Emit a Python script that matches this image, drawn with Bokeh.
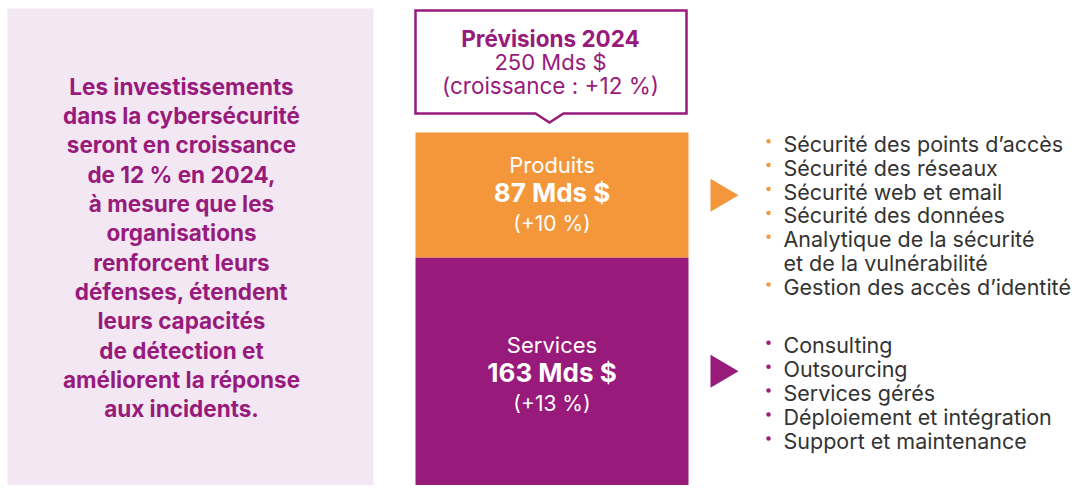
from bokeh.plotting import figure
from bokeh.models import Range1d
from bokeh.embed import file_html
from bokeh.resources import INLINE
from bokeh.core.properties import value

# ---------------- data ----------------
segments = ["Produits", "Services"]
segment_values = [87, 163]          # Mds $
segment_growth = ["(+10 %)", "(+13 %)"]
total_value = 250
total_title = "Prévisions 2024"
total_label = "250 Mds $"
total_growth = "(croissance : +12 %)"

left_lines = [
    "Les investissements", "dans la cybersécurité", "seront en croissance",
    "de 12 % en 2024,", "à mesure que les", "organisations",
    "renforcent leurs", "défenses, étendent", "leurs capacités",
    "de détection et", "améliorent la réponse", "aux incidents.",
]
product_items = [
    ["Sécurité des points d’accès"],
    ["Sécurité des réseaux"],
    ["Sécurité web et email"],
    ["Sécurité des données"],
    ["Analytique de la sécurité", "et de la vulnérabilité"],
    ["Gestion des accès d’identité"],
]
service_items = [
    ["Consulting"], ["Outsourcing"], ["Services gérés"],
    ["Déploiement et intégration"], ["Support et maintenance"],
]

# ---------------- styles ----------------
PURPLE = "#981B7C"
ORANGE = "#F3973A"
PANEL = "#F3E7F4"
DARK = "#333333"
FONT = "Inter"
colors = [ORANGE, PURPLE]

W, H = 1076, 485
PX = 1.44                      # pixels per Mds $
Y0 = 492                       # screen y of value 0


def Y(sy):
    """screen y -> data y"""
    return (Y0 - sy) / PX


p = figure(width=W, height=H, output_backend="svg", toolbar_location=None,
           x_range=Range1d(0, W), y_range=Range1d(Y(H), Y(0)),
           min_border=0)
p.axis.visible = False
p.grid.visible = False
p.outline_line_color = None
p.background_fill_color = "white"
p.border_fill_color = "white"

# left panel
p.quad(left=7, right=373, top=Y(8), bottom=Y(500), fill_color=PANEL, line_color=None)
p.text(x=[181] * len(left_lines),
       y=[Y(85.5 + i * 29.35) for i in range(len(left_lines))],
       text=left_lines, text_font=value(FONT), text_font_size="22.5px",
       text_font_style="bold", text_color=PURPLE, text_align="center",
       text_baseline="middle")

# stacked bar
BX0, BX1 = 415, 688
BXC = (BX0 + BX1) / 2
tops, bottoms, mids = [], [], []
acc = total_value
for v in segment_values:
    tops.append(acc)
    bottoms.append(acc - v)
    mids.append(acc - v / 2)
    acc -= v
p.vbar(x=[BXC] * 2, width=BX1 - BX0, top=tops, bottom=bottoms,
       fill_color=colors, line_color=None)

for i, seg in enumerate(segments):
    c = Y0 - mids[i] * PX - 3      # screen centre of bold value
    p.text(x=[BXC], y=[Y(c - 27)], text=[seg], text_font=value(FONT),
           text_font_size="22px", text_color="white", text_align="center",
           text_baseline="middle")
    p.text(x=[BXC], y=[Y(c)], text=[f"{segment_values[i]} Mds $"],
           text_font=value(FONT), text_font_size="26px", text_font_style="bold",
           text_color="white", text_align="center", text_baseline="middle")
    p.text(x=[BXC], y=[Y(c + 31)], text=[segment_growth[i]],
           text_font=value(FONT), text_font_size="21px", text_color="white",
           text_align="center", text_baseline="middle")
    # arrow
    cy = Y0 - mids[i] * PX
    cy = cy if i == 0 else cy - 4
    p.patch(x=[710, 738, 710], y=[Y(cy - 16.5), Y(cy), Y(cy + 16.5)],
            fill_color=colors[i], line_color=None)

# callout box
top_screen = Y0 - total_value * PX
cb_bottom = top_screen - 19
cx = [415, 686, 686, 563, 549, 535, 415]
cy_ = [10, 10, cb_bottom, cb_bottom, cb_bottom + 9, cb_bottom, cb_bottom]
p.patch(x=cx, y=[Y(v) for v in cy_], fill_color="white", line_color=PURPLE,
        line_width=2.5, line_join="miter")
p.text(x=[550], y=[Y(37.5)], text=[total_title], text_font=value(FONT),
       text_font_size="22.5px", text_font_style="bold", text_color=PURPLE,
       text_align="center", text_baseline="middle")
p.text(x=[550], y=[Y(61)], text=[total_label], text_font=value(FONT),
       text_font_size="22px", text_color=PURPLE, text_align="center",
       text_baseline="middle")
p.text(x=[550], y=[Y(85)], text=[total_growth], text_font=value(FONT),
       text_font_size="22.5px", text_color=PURPLE, text_align="center",
       text_baseline="middle")


# bullet lists
def draw_list(items, start, color):
    line = 0
    bx, by, tx, ty, tt = [], [], [], [], []
    for item in items:
        bx.append(768)
        by.append(Y(start + line * 23.9 - 2.5))
        for sub in item:
            tx.append(783)
            ty.append(Y(start + line * 23.9))
            tt.append(sub)
            line += 1
    p.scatter(x=bx, y=by, size=4.5, fill_color=color, line_color=None)
    p.text(x=tx, y=ty, text=tt, text_font=value(FONT), text_font_size="21.5px",
           text_color=DARK, text_align="left", text_baseline="middle")


draw_list(product_items, 143.2, ORANGE)
draw_list(service_items, 344.8, PURPLE)

open("out.html", "w").write(file_html(p, INLINE))
